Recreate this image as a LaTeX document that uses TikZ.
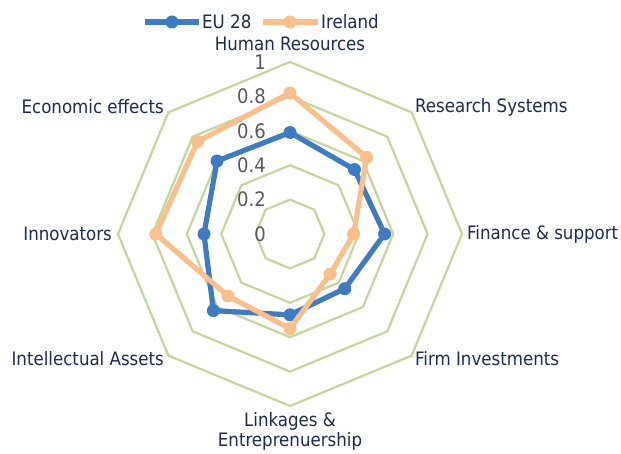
\documentclass[tikz,border=0pt]{standalone}
\usepackage{fontspec}
\setmainfont{DejaVu Sans Condensed}
\definecolor{eucol}{HTML}{3E7BC1}
\definecolor{iecol}{HTML}{F9BF8C}
\definecolor{ringcol}{HTML}{C3D69B}
\definecolor{labcol}{HTML}{1B2B52}
\definecolor{tickcol}{HTML}{595959}
\tikzset{
  ring/.style={draw=ringcol, line width=2.2pt, line join=miter},
  eu/.style={draw=eucol, line width=5.2pt, line join=round},
  ie/.style={draw=iecol, line width=5.2pt, line join=round},
  axlab/.style={text=labcol, font=\fontsize{18.5}{20}\selectfont, inner sep=0pt},
  ticklab/.style={text=tickcol, font=\fontsize{20}{20}\selectfont, inner sep=0pt, anchor=east},
}
\begin{document}
\begin{tikzpicture}[x=1pt,y=1pt]
\useasboundingbox (0,0) rectangle (621,454);
\begin{scope}[shift={(290,220)}]
  \foreach \r in {1,...,5}
    \draw[ring] (90:\r*34.4pt) -- (45:\r*34.4pt) -- (0:\r*34.4pt) -- (-45:\r*34.4pt)
      -- (-90:\r*34.4pt) -- (-135:\r*34.4pt) -- (180:\r*34.4pt) -- (135:\r*34.4pt) -- cycle;
  \foreach \v [count=\k from 0] in {0,0.2,0.4,0.6,0.8,1}
    \node[ticklab] (t\k) at (-24pt,\k*34.4pt) {\v};
  % EU 28
  \draw[eu] (90:0.59*172pt) -- (45:0.53*172pt) -- (0:0.55*172pt) -- (-45:0.45*172pt)
    -- (-90:0.47*172pt) -- (-135:0.63*172pt) -- (180:0.50*172pt) -- (135:0.60*172pt) -- cycle;
  \foreach \a/\v in {90/0.59,45/0.53,0/0.55,-45/0.45,-90/0.47,-135/0.63,180/0.50,135/0.60}
    \fill[eucol] (\a:\v*172pt) circle (6.5pt);
  % Ireland
  \draw[ie] (90:0.82*172pt) -- (45:0.63*172pt) -- (0:0.37*172pt) -- (-45:0.33*172pt)
    -- (-90:0.55*172pt) -- (-135:0.51*172pt) -- (180:0.78*172pt) -- (135:0.76*172pt) -- cycle;
  \foreach \a/\v in {90/0.82,45/0.63,0/0.37,-45/0.33,-90/0.55,-135/0.51,180/0.78,135/0.76}
    \fill[iecol] (\a:\v*172pt) circle (6.5pt);
\end{scope}
% axis labels
\node[axlab, anchor=center] (hr) at (290,410) {Human Resources};
\node[axlab, anchor=west] (rs) at (415,347) {Research Systems};
\node[axlab, anchor=west] (fs) at (467,220) {Finance \& support};
\node[axlab, anchor=west] (fi) at (415,95) {Firm Investments};
\node[axlab, anchor=north, align=center] (le) at (290,42) {Linkages \&\\Entreprenuership};
\node[axlab, anchor=east] (ia) at (164,95) {Intellectual Assets};
\node[axlab, anchor=east] (in) at (112,220) {Innovators};
\node[axlab, anchor=east] (ee) at (164,347) {Economic effects};
% legend
\coordinate (l1a) at (145,432); \coordinate (l1b) at (199,432);
\draw[eu] (l1a) -- (l1b);
\fill[eucol] (172,432) circle (6.5pt);
\node[axlab, anchor=west] (leu) at (202,432) {EU 28};
\coordinate (l2a) at (263,432); \coordinate (l2b) at (318,432);
\draw[ie] (l2a) -- (l2b);
\fill[iecol] (290,432) circle (6.5pt);
\node[axlab, anchor=west] (lie) at (321,432) {Ireland};
\end{tikzpicture}
\end{document}
